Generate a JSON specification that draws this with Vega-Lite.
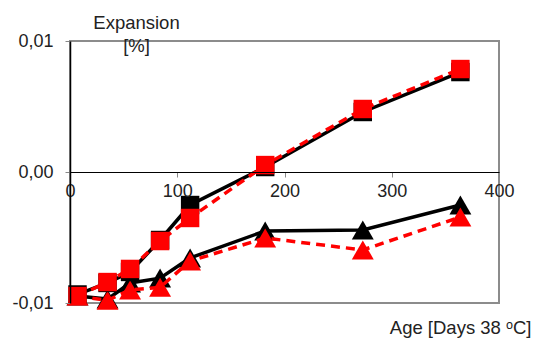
{
  "$schema": "https://vega.github.io/schema/vega-lite/v6.json",
  "width": 429,
  "height": 262,
  "autosize": {"type": "none"},
  "padding": {"left": 70, "top": 41, "right": 35, "bottom": 35},
  "background": "white",
  "config": {
    "view": {"stroke": "#8c8c8c", "strokeWidth": 2},
    "font": "Liberation Sans",
    "axis": {"labelFont": "Liberation Sans", "titleFont": "Liberation Sans", "labelFontSize": 18, "titleFontSize": 18.5, "labelColor": "#222", "titleColor": "#222", "titleFontWeight": "normal", "grid": false}
  },
  "data": {"values": [
    {"day": 7, "value": -0.00947, "series": "Black triangle"},
    {"day": 35, "value": -0.0097, "series": "Black triangle"},
    {"day": 56, "value": -0.00847, "series": "Black triangle"},
    {"day": 84, "value": -0.0081, "series": "Black triangle"},
    {"day": 112, "value": -0.00656, "series": "Black triangle"},
    {"day": 182, "value": -0.0045, "series": "Black triangle"},
    {"day": 273, "value": -0.00443, "series": "Black triangle"},
    {"day": 364, "value": -0.00252, "series": "Black triangle"},
    {"day": 7, "value": -0.00947, "series": "Red triangle"},
    {"day": 35, "value": -0.0098, "series": "Red triangle"},
    {"day": 56, "value": -0.009, "series": "Red triangle"},
    {"day": 84, "value": -0.0088, "series": "Red triangle"},
    {"day": 112, "value": -0.0068, "series": "Red triangle"},
    {"day": 182, "value": -0.00504, "series": "Red triangle"},
    {"day": 273, "value": -0.00595, "series": "Red triangle"},
    {"day": 364, "value": -0.00344, "series": "Red triangle"},
    {"day": 7, "value": -0.00935, "series": "Black square"},
    {"day": 35, "value": -0.00847, "series": "Black square"},
    {"day": 56, "value": -0.00763, "series": "Black square"},
    {"day": 84, "value": -0.00519, "series": "Black square"},
    {"day": 112, "value": -0.00252, "series": "Black square"},
    {"day": 182, "value": 0.00038, "series": "Black square"},
    {"day": 273, "value": 0.00458, "series": "Black square"},
    {"day": 364, "value": 0.00763, "series": "Black square"},
    {"day": 7, "value": -0.00947, "series": "Red square"},
    {"day": 35, "value": -0.0084, "series": "Red square"},
    {"day": 56, "value": -0.0074, "series": "Red square"},
    {"day": 84, "value": -0.00527, "series": "Red square"},
    {"day": 112, "value": -0.00351, "series": "Red square"},
    {"day": 182, "value": 0.00053, "series": "Red square"},
    {"day": 273, "value": 0.00481, "series": "Red square"},
    {"day": 364, "value": 0.00786, "series": "Red square"}
  ]},
  "encoding": {
    "x": {"field": "day", "type": "quantitative", "scale": {"domain": [0, 400], "nice": false},
      "axis": {"orient": "bottom", "offset": -131, "values": [0, 100, 200, 300, 400], "domainColor": "#000", "domainWidth": 1.2, "tickColor": "#888", "tickSize": 5, "tickWidth": 1, "labelPadding": 5, "labelOverlap": false, "labelFlush": false, "zindex": 1,
        "title": "Age [Days 38 ᵒC]", "titleX": 461, "titleY": 161, "titleAlign": "right", "titleAnchor": null, "titleBaseline": "alphabetic"}},
    "y": {"field": "value", "type": "quantitative", "scale": {"domain": [-0.01, 0.01], "nice": false, "zero": false},
      "axis": {"values": [-0.01, 0, 0.01], "labelExpr": "replace(replace(format(datum.value, '.2f'), '.', ','), '\u2212', '-')", "domainColor": "#000", "domainWidth": 1.5, "tickColor": "#888", "tickSize": 5, "labelPadding": 12, "zindex": 1,
        "title": ["Expansion", "[%]"], "titleAngle": 0, "titleX": 66, "titleY": -13, "titleAlign": "center", "titleBaseline": "alphabetic", "titleLineHeight": 23}}
  },
  "layer": [
    {"data": {"values": [{"a": 1}]}, "mark": {"type": "rect", "fill": "white", "clip": false},
      "encoding": {"x": {"datum": 12}, "x2": {"datum": 111}, "y": {"datum": 0.0103}, "y2": {"datum": 0.0096}}},
    {"transform": [{"filter": "datum.series === 'Black triangle'"}], "mark": {"type": "line", "color": "#000", "strokeWidth": 3.5}},
    {"transform": [{"filter": "datum.series === 'Black triangle'"}], "mark": {"type": "point", "shape": "triangle-up", "filled": true, "opacity": 1, "color": "#000", "size": 480}},
    {"transform": [{"filter": "datum.series === 'Red triangle'"}], "mark": {"type": "line", "color": "#ff0000", "strokeWidth": 3.5, "strokeDash": [9, 6]}},
    {"transform": [{"filter": "datum.series === 'Red triangle'"}], "mark": {"type": "point", "shape": "triangle-up", "filled": true, "opacity": 1, "color": "#ff0000", "size": 480}},
    {"transform": [{"filter": "datum.series === 'Black square'"}], "mark": {"type": "line", "color": "#000", "strokeWidth": 3.5}},
    {"transform": [{"filter": "datum.series === 'Black square'"}], "mark": {"type": "point", "shape": "square", "filled": true, "opacity": 1, "color": "#000", "size": 340}},
    {"transform": [{"filter": "datum.series === 'Red square'"}], "mark": {"type": "line", "color": "#ff0000", "strokeWidth": 3.5, "strokeDash": [9, 6]}},
    {"transform": [{"filter": "datum.series === 'Red square'"}], "mark": {"type": "point", "shape": "square", "filled": true, "opacity": 1, "color": "#ff0000", "size": 340}}
  ]
}
